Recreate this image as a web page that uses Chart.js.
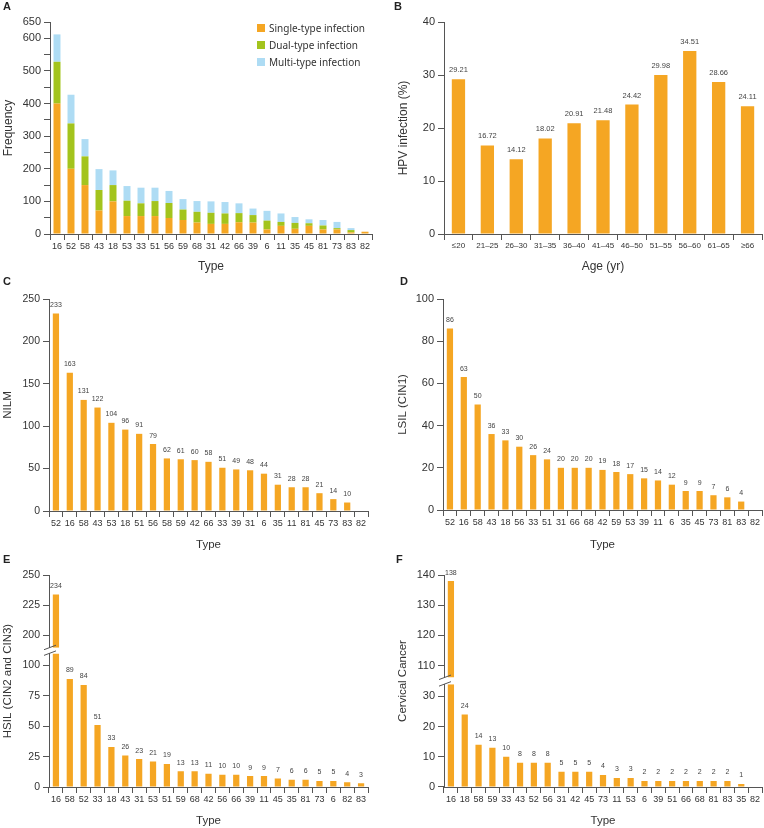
<!DOCTYPE html>
<html lang="en">
<head>
<meta charset="UTF-8">
<title>HPV genotype distribution</title>
<script src="https://cdn.jsdelivr.net/npm/chart.js"></script>
<style>
  body { margin: 0; background: #fff; }
  #page { position: relative; width: 764px; height: 828px; font-family: 'Liberation Sans', Arial, sans-serif; }
  #page canvas { position: absolute; }
  .letter { position: absolute; font-weight: bold; font-size: 11px; line-height: 11px; color: #222; }
  #legendA { position: absolute; left: 257px; top: 20px; font-family: 'Noto Sans', sans-serif; font-size: 10px; color: #333; }
  #legendA .item { height: 16.7px; display: flex; align-items: center; white-space: nowrap; }
  #legendA .sw { width: 8px; height: 8px; margin-right: 4px; }
</style>
</head>
<body>
<div id="page">
  <canvas id="chartA" width="382" height="274" style="left:0;top:0"></canvas>
  <canvas id="chartB" width="382" height="274" style="left:382px;top:0"></canvas>
  <canvas id="chartC" width="382" height="276" style="left:0;top:276px"></canvas>
  <canvas id="chartD" width="382" height="276" style="left:382px;top:276px"></canvas>
  <canvas id="chartE" width="382" height="276" style="left:0;top:552px"></canvas>
  <canvas id="chartF" width="382" height="276" style="left:382px;top:552px"></canvas>
  <div class="letter" style="left:3px;top:1px">A</div>
  <div class="letter" style="left:394px;top:1px">B</div>
  <div class="letter" style="left:3px;top:276px">C</div>
  <div class="letter" style="left:400px;top:276px">D</div>
  <div class="letter" style="left:3px;top:554px">E</div>
  <div class="letter" style="left:396px;top:554px">F</div>
  <div id="legendA"></div>
</div>

<script>
// ---- data ----
const typesA = ['16', '52', '58', '43', '18', '53', '33', '51', '56', '59', '68', '31', '42', '66', '39', '6', '11', '35', '45', '81', '73', '83', '82'];
const singleA = [400, 200, 150, 72, 100, 55, 55, 55, 49, 43, 35, 31, 31, 36, 35, 14, 25, 16, 25, 14, 14, 5, 7];
const dualA = [128, 139, 88, 63, 50, 47, 39, 46, 46, 32, 33, 34, 32, 28, 23, 27, 12, 18, 8, 12, 4, 7, 0];
const multiA = [84, 88, 53, 64, 45, 45, 48, 41, 37, 32, 33, 35, 35, 30, 20, 30, 26, 18, 12, 17, 19, 6, 0];
const seriesA = ['Single-type infection', 'Dual-type infection', 'Multi-type infection'];
const tickLabelsA = [0, 100, 200, 300, 400, 500, 600, 650];

const agesB = ['≤20', '21–25', '26–30', '31–35', '36–40', '41–45', '46–50', '51–55', '56–60', '61–65', '≥66'];
const rateB = [29.21, 16.72, 14.12, 18.02, 20.91, 21.48, 24.42, 29.98, 34.51, 28.66, 24.11];

const typesC = ['52', '16', '58', '43', '53', '18', '51', '56', '58', '59', '42', '66', '33', '39', '31', '6', '35', '11', '81', '45', '73', '83', '82'];
const nilmC = [233, 163, 131, 122, 104, 96, 91, 79, 62, 61, 60, 58, 51, 49, 48, 44, 31, 28, 28, 21, 14, 10, null];

const typesD = ['52', '16', '58', '43', '18', '56', '33', '51', '31', '66', '68', '42', '59', '53', '39', '11', '6', '35', '45', '73', '81', '83', '82'];
const lsilD = [86, 63, 50, 36, 33, 30, 26, 24, 20, 20, 20, 19, 18, 17, 15, 14, 12, 9, 9, 7, 6, 4, null];

const typesE = ['16', '58', '52', '33', '18', '43', '31', '53', '51', '59', '68', '42', '56', '66', '39', '11', '45', '35', '81', '73', '6', '82', '83'];
const hsilE = [234, 89, 84, 51, 33, 26, 23, 21, 19, 13, 13, 11, 10, 10, 9, 9, 7, 6, 6, 5, 5, 4, 3];
const lowTicksE = [0, 25, 50, 75, 100];
const highTicksE = [200, 225, 250];

const typesF = ['16', '18', '58', '59', '33', '43', '52', '56', '31', '42', '45', '73', '11', '53', '6', '39', '51', '66', '68', '81', '83', '35', '82'];
const cancerF = [138, 24, 14, 13, 10, 8, 8, 8, 5, 5, 5, 4, 3, 3, 2, 2, 2, 2, 2, 2, 2, 1, null];
const lowTicksF = [0, 10, 20, 30];
const highTicksF = [110, 120, 130, 140];

// ---- styles ----
const ORANGE = '#F5A623';
const GREEN = '#A3C41D';
const BLUE = '#AEDCF4';
const AXIS = '#555';
const TEXT = '#333';

Chart.defaults.font.family = "'Liberation Sans', Arial, sans-serif";
Chart.defaults.color = TEXT;
Chart.defaults.animation = false;
Chart.defaults.plugins.legend.display = false;
Chart.defaults.plugins.tooltip.enabled = false;

// numbers above the bars
const valueLabels = {
    id: 'valueLabels',
    afterDatasetsDraw(chart, args, opts) {
        const ctx = chart.ctx;
        ctx.save();
        ctx.font = opts.font;
        ctx.fillStyle = '#444';
        ctx.textAlign = 'center';
        ctx.textBaseline = 'alphabetic';
        chart.data.datasets.forEach((ds, di) => {
            if (!ds.valueLabels) return;
            chart.getDatasetMeta(di).data.forEach((el, i) => {
                const v = ds.valueLabels[i];
                if (v == null) return;
                ctx.fillText(opts.format ? opts.format(v) : String(v), el.x, el.y - opts.gap);
            });
        });
        ctx.restore();
    }
};

// slashes where the y axis is broken
const breakMarks = {
    id: 'breakMarks',
    afterDraw(chart) {
        const lo = chart.scales.yLow, hi = chart.scales.yHigh;
        if (!lo || !hi) return;
        const ctx = chart.ctx, x = chart.chartArea.left;
        ctx.save();
        ctx.strokeStyle = AXIS;
        ctx.lineWidth = 1;
        [hi.bottom, lo.top].forEach(y => {
            ctx.beginPath();
            ctx.moveTo(x - 5, y + 2);
            ctx.lineTo(x + 7, y - 2.5);
            ctx.stroke();
        });
        ctx.restore();
    }
};

const xAxis = (box, area, tickSize, title, titleSize) => ({
    type: 'category',
    offset: true,
    grid: { offset: true, drawOnChartArea: false, tickLength: 6, color: AXIS },
    border: { color: AXIS },
    ticks: { autoSkip: false, maxRotation: 0, padding: 1, font: { size: tickSize }, color: TEXT },
    title: { display: true, text: title, font: { size: titleSize }, padding: 0, color: TEXT },
    afterFit: s => { s.height = box.y + box.h - area.b; }
});

const yAxis = (extra) => Object.assign({
    type: 'linear',
    position: 'left',
    grid: { drawOnChartArea: false, tickLength: 6, color: AXIS },
    border: { color: AXIS },
}, extra);

const padding = (box, area) => ({ left: 0, top: area.t - box.y, right: box.x + box.w - area.r, bottom: 0 });

// ---- A: stacked ----
(() => {
    const box = { x: 0, y: 0, w: 382, h: 274 }, area = { l: 50, t: 22, r: 372, b: 234 };
    const colors = [ORANGE, GREEN, BLUE];
    const values = [singleA, dualA, multiA];
    new Chart(document.getElementById('chartA'), {
        type: 'bar',
        data: {
            labels: typesA,
            datasets: seriesA.map((name, i) => ({
                label: name, data: values[i], backgroundColor: colors[i],
                barPercentage: 0.5, categoryPercentage: 1
            }))
        },
        options: {
            responsive: false,
            layout: { padding: padding(box, area) },
            scales: {
                x: Object.assign(xAxis(box, area, 9, 'Type', 12), { stacked: true }),
                y: yAxis({
                    stacked: true, min: 0, max: 650,
                    ticks: { stepSize: 50, padding: 3, font: { size: 11 }, color: TEXT,
                        callback: v => tickLabelsA.includes(v) ? v : '' },
                    title: { display: true, text: 'Frequency', font: { size: 12 }, padding: { top: 1, bottom: 0 }, color: TEXT },
                    afterFit: s => { s.width = area.l - box.x; }
                })
            }
        }
    });
    const legend = document.getElementById('legendA');
    legend.innerHTML = seriesA.map((name, i) =>
        `<div class="item"><span class="sw" style="background:${colors[i]}"></span>${name}</div>`).join('');
})();

// ---- B, C, D: simple bars ----
function simpleBar(id, box, area, o) {
    new Chart(document.getElementById(id), {
        type: 'bar',
        data: {
            labels: o.labels,
            datasets: [{ data: o.values, valueLabels: o.values, backgroundColor: ORANGE,
                barPercentage: o.barPct, categoryPercentage: 1 }]
        },
        options: {
            responsive: false,
            layout: { padding: padding(box, area) },
            plugins: { valueLabels: { font: o.labelFont, gap: o.labelGap, format: o.format } },
            scales: {
                x: xAxis(box, area, o.xTickSize, o.xTitle, o.titleSize),
                y: yAxis({
                    min: 0, max: o.max,
                    ticks: { stepSize: o.step, padding: 3, font: { size: o.yTickSize }, color: TEXT },
                    title: { display: true, text: o.yTitle, font: { size: o.titleSize }, padding: { top: o.titlePad, bottom: 0 }, color: TEXT },
                    afterFit: s => { s.width = area.l - box.x; }
                })
            }
        },
        plugins: [valueLabels]
    });
}

simpleBar('chartB', { x: 382, y: 0, w: 382, h: 274 }, { l: 444, t: 22, r: 762, b: 234 }, {
    labels: agesB, values: rateB, barPct: 0.46, max: 40, step: 10,
    xTickSize: 8, yTickSize: 11, titleSize: 12, xTitle: 'Age (yr)', yTitle: 'HPV infection (%)', titlePad: 14,
    labelFont: "7.5px 'Liberation Sans', Arial, sans-serif", labelGap: 7, format: v => v.toFixed(2)
});

simpleBar('chartC', { x: 0, y: 276, w: 382, h: 276 }, { l: 49, t: 299, r: 368, b: 511 }, {
    labels: typesC, values: nilmC, barPct: 0.45, max: 250, step: 50,
    xTickSize: 9, yTickSize: 10.5, titleSize: 11.5, xTitle: 'Type', yTitle: 'NILM', titlePad: 1,
    labelFont: "7px 'Liberation Sans', Arial, sans-serif", labelGap: 6.5
});

simpleBar('chartD', { x: 382, y: 276, w: 382, h: 276 }, { l: 443, t: 299, r: 762, b: 510 }, {
    labels: typesD, values: lsilD, barPct: 0.45, max: 100, step: 20,
    xTickSize: 9, yTickSize: 11, titleSize: 11.5, xTitle: 'Type', yTitle: 'LSIL (CIN1)', titlePad: 14,
    labelFont: "7px 'Liberation Sans', Arial, sans-serif", labelGap: 6.5
});

// ---- E, F: broken y axis (two stacked scales with a gap) ----
function brokenBar(id, box, area, o) {
    const lowData = o.values.map(v => v == null ? null : Math.min(v, o.lowMax));
    const lowLabels = o.values.map(v => v != null && v <= o.lowMax ? v : null);
    const highData = o.values.map(v => v != null && v > o.lowMax ? [o.highMin, v] : null);
    const highLabels = o.values.map(v => v != null && v > o.lowMax ? v : null);
    const stackW = area.l - box.x - o.titleW;
    const tickFont = { size: o.yTickSize };
    new Chart(document.getElementById(id), {
        type: 'bar',
        data: {
            labels: o.labels,
            datasets: [
                { data: lowData, valueLabels: lowLabels, yAxisID: 'yLow', grouped: false,
                    backgroundColor: ORANGE, barPercentage: 0.45, categoryPercentage: 1 },
                { data: highData, valueLabels: highLabels, yAxisID: 'yHigh', grouped: false,
                    backgroundColor: ORANGE, barPercentage: 0.45, categoryPercentage: 1 }
            ]
        },
        options: {
            responsive: false,
            layout: { padding: padding(box, area) },
            plugins: { valueLabels: { font: "7px 'Liberation Sans', Arial, sans-serif", gap: 6.5 } },
            scales: {
                x: xAxis(box, area, 9, 'Type', 11.5),
                yLow: yAxis({
                    stack: 'v', stackWeight: o.heights[2], weight: 1, min: 0, max: o.lowMax,
                    ticks: { padding: 3, font: tickFont, color: TEXT },
                    afterBuildTicks: s => { s.ticks = o.lowTicks.map(v => ({ value: v })); },
                    afterFit: s => { s.width = stackW; }
                }),
                yGap: yAxis({
                    stack: 'v', stackWeight: o.heights[1], weight: 2, min: 0, max: 1,
                    ticks: { display: false }, grid: { display: false }, border: { display: false },
                    afterFit: s => { s.width = stackW; }
                }),
                yHigh: yAxis({
                    stack: 'v', stackWeight: o.heights[0], weight: 3, min: o.highMin, max: o.highMax,
                    ticks: { padding: 3, font: tickFont, color: TEXT },
                    afterBuildTicks: s => { s.ticks = o.highTicks.map(v => ({ value: v })); },
                    afterFit: s => { s.width = stackW; }
                }),
                yTitle: yAxis({
                    weight: 4, min: 0, max: 1,
                    ticks: { display: false }, grid: { display: false }, border: { display: false },
                    title: { display: true, text: o.yTitle, font: { size: 11.5 }, padding: { top: o.titlePad, bottom: 0 }, color: TEXT },
                    afterFit: s => { s.width = o.titleW; }
                })
            }
        },
        plugins: [valueLabels, breakMarks]
    });
}

brokenBar('chartE', { x: 0, y: 552, w: 382, h: 276 }, { l: 49, t: 575, r: 368, b: 787 }, {
    labels: typesE, values: hsilE, lowMax: 110, highMin: 190, highMax: 250,
    lowTicks: lowTicksE, highTicks: highTicksE, heights: [72.8, 5.7, 133.8],
    yTickSize: 10.5, yTitle: 'HSIL (CIN2 and CIN3)', titlePad: 1, titleW: 20
});

brokenBar('chartF', { x: 382, y: 552, w: 382, h: 276 }, { l: 444, t: 575, r: 762, b: 787 }, {
    labels: typesF, values: cancerF, lowMax: 34, highMin: 106, highMax: 140,
    lowTicks: lowTicksF, highTicks: highTicksF, heights: [102.7, 6.6, 103],
    yTickSize: 11, yTitle: 'Cervical Cancer', titlePad: 14, titleW: 30
});
</script>
</body>
</html>
